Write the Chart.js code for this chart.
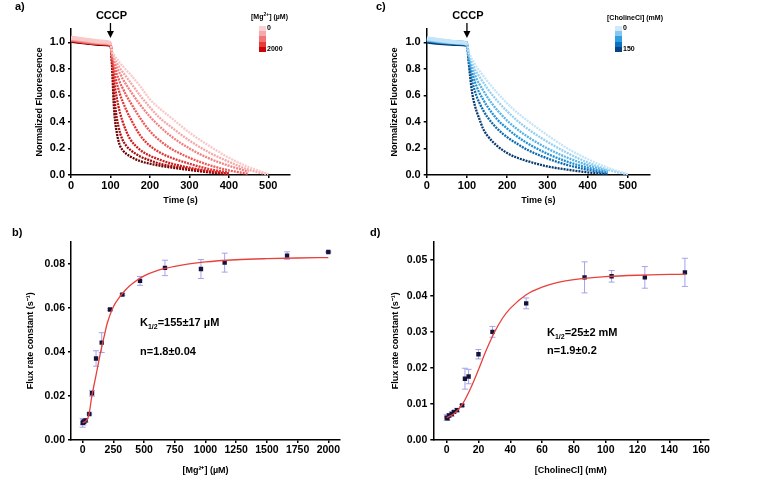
<!DOCTYPE html>
<html lang="en">
<head>
<meta charset="UTF-8">
<title>Flux rate constants</title>
<script src="https://cdn.jsdelivr.net/npm/chart.js@4"></script>
<style>
    body { margin: 0; width: 763px; height: 487px; background: #fff; position: relative; overflow: hidden;
           font-family: "Liberation Sans", Arial, sans-serif; font-weight: bold; color: #000; }
    canvas { position: absolute; }
    .txt { position: absolute; white-space: nowrap; font-size: 11px; line-height: 13px; }
    .small { font-size: 7px; line-height: 8px; }
    .bar { position: absolute; width: 7px; height: 26px; }
    #barMg { left: 259px; top: 26px; background: linear-gradient(#fbd0d0 0 20%, #f7a8a8 20% 40%, #f27474 40% 60%, #ea3b3b 60% 80%, #c80808 80%); }
    #barCh { left: 615px; top: 26px; background: linear-gradient(#cfe9f8 0 20%, #86c8ef 20% 40%, #2f9ee2 40% 60%, #0b72c0 60% 80%, #0a4384 80%); }
</style>
</head>
<body>

<canvas id="chartA" width="300" height="210" style="left:0;top:0"></canvas>
<canvas id="chartC" width="300" height="210" style="left:360px;top:0"></canvas>
<canvas id="chartB" width="380" height="265" style="left:0;top:215px"></canvas>
<canvas id="chartD" width="383" height="265" style="left:380px;top:215px"></canvas>

<div class="txt" style="left:15px;top:0">a)</div>
<div class="txt" style="left:376px;top:0">c)</div>
<div class="txt" style="left:12px;top:226px">b)</div>
<div class="txt" style="left:370px;top:226px">d)</div>

<div class="txt small" style="left:251px;top:13px">[Mg<sup style="font-size:5px;line-height:0">2+</sup>] (µM)</div>
<div class="bar" id="barMg"></div>
<div class="txt small" style="left:267px;top:24px">0</div>
<div class="txt small" style="left:267px;top:45px">2000</div>

<div class="txt small" style="left:607px;top:14px">[CholineCl] (mM)</div>
<div class="bar" id="barCh"></div>
<div class="txt small" style="left:623px;top:24px">0</div>
<div class="txt small" style="left:623px;top:45px">150</div>

<div class="txt" style="left:140px;top:316px">K<sub style="font-size:7px">1/2</sub>=155±17 µM</div>
<div class="txt" style="left:140px;top:345px">n=1.8±0.04</div>
<div class="txt" style="left:547px;top:326px">K<sub style="font-size:7px">1/2</sub>=25±2 mM</div>
<div class="txt" style="left:547px;top:344px">n=1.9±0.2</div>

<script>
// ---- a) and c): fluorescence traces, one shared time axis (s)
const time = [0, 25, 50, 75, 100, 104, 108, 112, 116, 120, 125, 130, 140, 150, 175, 200, 225, 250, 300, 350, 400, 450, 500];

// Mg2+ series, 0 µM (light) -> 2000 µM (dark)
const mg0 = [1.035, 1.025, 1.015, 1.005, 0.995, 0.93, 0.91, 0.89, 0.875, 0.86, 0.84, 0.825, 0.79, 0.76, 0.67, 0.57, 0.50, 0.44, 0.32, 0.22, 0.13, 0.06, 0.008];
const mg1 = [1.03, 1.02, 1.01, 1.0, 0.99, 0.92, 0.89, 0.865, 0.845, 0.825, 0.80, 0.78, 0.74, 0.70, 0.60, 0.51, 0.43, 0.37, 0.26, 0.17, 0.10, 0.04, 0.003];
const mg2 = [1.025, 1.015, 1.005, 1.0, 0.99, 0.91, 0.87, 0.84, 0.81, 0.785, 0.76, 0.73, 0.68, 0.635, 0.53, 0.44, 0.365, 0.30, 0.20, 0.125, 0.07, 0.025, null];
const mg3 = [1.02, 1.01, 1.0, 0.995, 0.99, 0.90, 0.84, 0.80, 0.76, 0.73, 0.69, 0.66, 0.60, 0.55, 0.43, 0.33, 0.26, 0.205, 0.13, 0.075, 0.035, 0.008, null];
const mg4 = [1.02, 1.01, 1.0, 0.995, 0.99, 0.89, 0.80, 0.74, 0.69, 0.65, 0.60, 0.56, 0.49, 0.43, 0.30, 0.22, 0.17, 0.135, 0.085, 0.045, 0.018, null, null];
const mg5 = [1.02, 1.01, 1.0, 0.995, 0.99, 0.87, 0.74, 0.65, 0.58, 0.52, 0.46, 0.41, 0.33, 0.27, 0.19, 0.145, 0.115, 0.09, 0.055, 0.03, 0.01, null, null];
const mg6 = [1.015, 1.005, 1.0, 0.99, 0.985, 0.85, 0.65, 0.52, 0.43, 0.37, 0.31, 0.27, 0.22, 0.19, 0.14, 0.11, 0.085, 0.07, 0.045, 0.025, 0.008, null, null];
const mg7 = [1.015, 1.005, 0.998, 0.99, 0.985, 0.82, 0.55, 0.40, 0.32, 0.26, 0.215, 0.19, 0.16, 0.14, 0.105, 0.085, 0.07, 0.058, 0.038, 0.02, 0.007, null, null];

// CholineCl series, 0 mM (light) -> 150 mM (dark)
const ch0 = [1.03, 1.02, 1.01, 1.0, 0.99, 0.93, 0.90, 0.875, 0.855, 0.835, 0.81, 0.79, 0.75, 0.71, 0.62, 0.54, 0.47, 0.41, 0.30, 0.20, 0.12, 0.055, 0.005];
const ch1 = [1.025, 1.015, 1.005, 1.0, 0.99, 0.92, 0.88, 0.85, 0.82, 0.795, 0.77, 0.745, 0.70, 0.655, 0.56, 0.48, 0.41, 0.35, 0.25, 0.165, 0.095, 0.04, 0.003];
const ch2 = [1.02, 1.01, 1.005, 1.0, 0.99, 0.91, 0.86, 0.82, 0.785, 0.755, 0.72, 0.69, 0.64, 0.59, 0.49, 0.41, 0.345, 0.29, 0.20, 0.13, 0.075, 0.03, null];
const ch3 = [1.02, 1.01, 1.0, 0.995, 0.99, 0.90, 0.83, 0.78, 0.74, 0.70, 0.66, 0.625, 0.57, 0.52, 0.42, 0.35, 0.29, 0.24, 0.16, 0.10, 0.055, 0.02, null];
const ch4 = [1.015, 1.005, 1.0, 0.995, 0.99, 0.88, 0.79, 0.72, 0.67, 0.63, 0.585, 0.55, 0.49, 0.44, 0.35, 0.285, 0.235, 0.19, 0.125, 0.075, 0.04, 0.012, null];
const ch5 = [1.01, 1.0, 0.995, 0.99, 0.985, 0.86, 0.74, 0.64, 0.57, 0.52, 0.47, 0.43, 0.35, 0.30, 0.22, 0.165, 0.13, 0.105, 0.065, 0.04, 0.02, 0.005, null];

const mgColors = ['#f9c8c8', '#f6a6a6', '#f28080', '#ec5a5a', '#e33434', '#d01818', '#a50808', '#6a0000'];
const chColors = ['#c4e4f7', '#93cff1', '#58b3e7', '#2190d6', '#0c68ad', '#073a6e'];

const timeTicks = [0, 100, 200, 300, 400, 500];
const fluoTicks = [0, 0.2, 0.4, 0.6, 0.8, 1.0];

// ---- b) Mg2+ dose response
const mgConc = [0, 5, 11, 24, 54, 76, 109, 155, 223, 323, 467, 670, 963, 1156, 1664, 2000];
const mgRate = [0.0078, 0.0080, 0.0084, 0.0089, 0.0118, 0.0212, 0.0370, 0.0442, 0.0592, 0.0660, 0.0722, 0.0781, 0.0776, 0.0805, 0.0837, 0.0853];
const mgErr = [0.0020, 0.0012, 0.0010, 0.0008, 0.0004, 0.0013, 0.0035, 0.0045, 0.0004, 0.0004, 0.0020, 0.0035, 0.0043, 0.0043, 0.0017, 0.0003];
const mgFitX = [0, 25, 50, 75, 100, 125, 150, 175, 200, 250, 300, 350, 400, 500, 600, 750, 1000, 1250, 1500, 1750, 2000];
const mgFitY = [0.0078, 0.0085, 0.0112, 0.0200, 0.0270, 0.0340, 0.0410, 0.0470, 0.0530, 0.0605, 0.0648, 0.0682, 0.0708, 0.0745, 0.0768, 0.0788, 0.0808, 0.0818, 0.0823, 0.0826, 0.0828];
const mgXTicks = [0, 250, 500, 750, 1000, 1250, 1500, 1750, 2000];
const mgYTicks = [0, 0.02, 0.04, 0.06, 0.08];

// ---- d) CholineCl dose response
const chConc = [0, 0.5, 1.5, 3.2, 4.6, 6.5, 9.7, 11.5, 13.8, 20, 28.8, 50, 86.7, 103.7, 124.6, 149.8];
const chRate = [0.0062, 0.0060, 0.0068, 0.0072, 0.0078, 0.0083, 0.0096, 0.0170, 0.0176, 0.0238, 0.0300, 0.0379, 0.0451, 0.0454, 0.0451, 0.0465];
const chErr = [0.0008, 0.0005, 0.0005, 0.0006, 0.0003, 0.0005, 0.0003, 0.0029, 0.0020, 0.0013, 0.0015, 0.0015, 0.0043, 0.0016, 0.0030, 0.0039];
const chFitX = [0, 5, 10, 15, 20, 25, 30, 35, 40, 50, 60, 70, 80, 100, 120, 150];
const chFitY = [0.0062, 0.0074, 0.0100, 0.0143, 0.0195, 0.0250, 0.0298, 0.0337, 0.0365, 0.0403, 0.0424, 0.0437, 0.0445, 0.0453, 0.0457, 0.0460];
const chXTicks = [0, 20, 40, 60, 80, 100, 120, 140, 160];
const chYTicks = [0, 0.01, 0.02, 0.03, 0.04, 0.05];

const FONT = '"Liberation Sans", Arial, sans-serif';

// error bars under the squares
const errorBars = {
    id: 'errorBars',
    beforeDatasetsDraw(chart, args, opts) {
        if (!opts.err) return;
        const { ctx, scales: { x, y } } = chart;
        ctx.save();
        ctx.strokeStyle = '#a3a3ec';
        ctx.lineWidth = 1;
        opts.xs.forEach((v, i) => {
            const px = x.getPixelForValue(v);
            const top = y.getPixelForValue(opts.ys[i] + opts.err[i]);
            const bot = y.getPixelForValue(opts.ys[i] - opts.err[i]);
            ctx.beginPath();
            ctx.moveTo(px, top); ctx.lineTo(px, bot);
            ctx.moveTo(px - 3, top); ctx.lineTo(px + 3, top);
            ctx.moveTo(px - 3, bot); ctx.lineTo(px + 3, bot);
            ctx.stroke();
        });
        ctx.restore();
    }
};

// "CCCP" label with arrow at the addition time
const cccp = {
    id: 'cccp',
    afterDraw(chart, args, opts) {
        if (opts.at === undefined) return;
        const { ctx, scales: { x } } = chart;
        const px = x.getPixelForValue(opts.at);
        ctx.save();
        ctx.fillStyle = '#000';
        ctx.strokeStyle = '#000';
        ctx.font = 'bold 11px ' + FONT;
        ctx.textAlign = 'center';
        ctx.textBaseline = 'middle';
        ctx.fillText('CCCP', px + 1, 16);
        ctx.lineWidth = 1.3;
        ctx.beginPath(); ctx.moveTo(px, 23); ctx.lineTo(px, 33); ctx.stroke();
        ctx.beginPath(); ctx.moveTo(px - 3.5, 31); ctx.lineTo(px + 3.5, 31); ctx.lineTo(px, 38); ctx.closePath(); ctx.fill();
        ctx.restore();
    }
};

function axis(o) {
    return {
        type: 'linear',
        min: o.min,
        max: o.max,
        title: { display: true, text: o.title, color: '#000', font: { family: FONT, size: 9, weight: 'bold' } },
        ticks: { color: '#000', padding: o.pad, font: { family: FONT, size: o.tickSize, weight: 'bold' },
                 callback: v => o.dec === undefined ? String(v) : v.toFixed(o.dec) },
        grid: { drawOnChartArea: false, tickLength: 3, color: '#000', lineWidth: 1.5 },
        border: { color: '#000', width: 1.5 },
        afterBuildTicks: s => { s.ticks = o.ticks.map(v => ({ value: v })); },
        afterFit: s => { if (o.width) s.width = o.width; if (o.height) s.height = o.height; }
    };
}

function traceSets(traces, colors) {
    const last = traces.length - 1;
    return traces.map((tr, k) => ({
        type: 'line',
        data: time.map((t, i) => ({ x: t, y: tr[i] })),
        borderColor: colors[k],
        pointRadius: 0,
        cubicInterpolationMode: 'monotone',
        spanGaps: false,
        segment: {
            borderWidth: c => c.p1.parsed.x <= 100 ? (k === last ? 5 : 4) : 2.3,
            borderDash: c => c.p1.parsed.x <= 100 ? [] : [2, 1]
        }
    }));
}

function tracePanel(id, traces, colors, padLeft, yWidth) {
    new Chart(document.getElementById(id), {
        type: 'line',
        data: { datasets: traceSets(traces, colors) },
        options: {
            responsive: false,
            animation: false,
            layout: { padding: { left: padLeft, top: 29, right: 10, bottom: 0 } },
            plugins: { legend: { display: false }, tooltip: { enabled: false }, cccp: { at: 100 } },
            scales: {
                x: axis({ min: 0, max: 555, title: 'Time (s)', ticks: timeTicks, tickSize: 11, pad: 1, height: 35 }),
                y: axis({ min: 0, max: 1.1, title: 'Normalized Fluorescence', ticks: fluoTicks, dec: 1, tickSize: 11, pad: 3, width: yWidth })
            }
        },
        plugins: [cccp]
    });
}

function dosePanel(id, xs, ys, err, fx, fy, o) {
    new Chart(document.getElementById(id), {
        type: 'scatter',
        data: {
            datasets: [
                {
                    type: 'line',
                    data: fx.map((v, i) => ({ x: v, y: fy[i] })),
                    borderColor: '#e8413c',
                    borderWidth: 1.3,
                    pointRadius: 0,
                    cubicInterpolationMode: 'monotone'
                },
                {
                    type: 'scatter',
                    data: xs.map((v, i) => ({ x: v, y: ys[i] })),
                    pointStyle: 'rect',
                    pointRadius: 3.1,
                    backgroundColor: '#14143a',
                    borderColor: '#14143a',
                    borderWidth: 0
                }
            ]
        },
        options: {
            responsive: false,
            animation: false,
            layout: { padding: o.padding },
            plugins: { legend: { display: false }, tooltip: { enabled: false },
                       errorBars: { xs: xs, ys: ys, err: err } },
            scales: {
                x: axis({ min: o.xMin, max: o.xMax, title: o.xTitle, ticks: o.xTicks, tickSize: 10.5, pad: 1, height: 40 }),
                y: axis({ min: 0, max: o.yMax, title: 'Flux rate constant (s⁻¹)', ticks: o.yTicks, dec: 2, tickSize: 10.5, pad: 3, width: o.yWidth })
            }
        },
        plugins: [errorBars]
    });
}

tracePanel('chartA', [mg0, mg1, mg2, mg3, mg4, mg5, mg6, mg7], mgColors, 30, 41);
tracePanel('chartC', [ch0, ch1, ch2, ch3, ch4, ch5], chColors, 25.5, 41.2);

dosePanel('chartB', mgConc, mgRate, mgErr, mgFitX, mgFitY, {
    xMin: -95, xMax: 2095, yMax: 0.09, xTitle: '[Mg²⁺] (µM)', xTicks: mgXTicks, yTicks: mgYTicks,
    yWidth: 49.6, padding: { left: 21.4, top: 26.7, right: 40, bottom: 0 }
});
dosePanel('chartD', chConc, chRate, chErr, chFitX, chFitY, {
    xMin: -8.4, xMax: 164.5, yMax: 0.055, xTitle: '[CholineCl] (mM)', xTicks: chXTicks, yTicks: chYTicks,
    yWidth: 47.3, padding: { left: 6, top: 26.7, right: 54.7, bottom: 0 }
});
</script>
</body>
</html>
